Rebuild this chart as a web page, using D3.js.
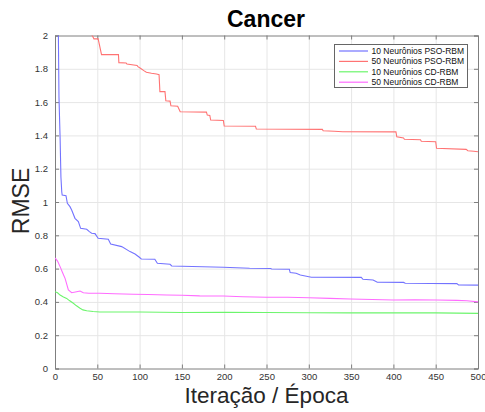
<!DOCTYPE html>
<html>
<head>
<meta charset="utf-8">
<script src="https://cdn.jsdelivr.net/npm/d3@7"></script>
<style>
  body { margin: 0; background: #fff; }
  text { font-family: "Liberation Sans", Arial, Helvetica, sans-serif; }
</style>
</head>
<body>
<div id="chart"></div>
<script>
// series as [epoch, RMSE]
const pso10 = [[1,2.9],[3,2.3],[4,2.0],[4.7,1.63],[6,1.39],[7,1.15],[8,1.06],[8.5,1.042],[13,1.038],[14.6,0.992],[17.7,0.972],[19.7,0.952],[23.6,0.902],[27.6,0.882],[30.3,0.842],[37.5,0.836],[40.6,0.822],[43.3,0.812],[47.3,0.81],[51,0.782],[63,0.776],[65.8,0.748],[78.8,0.732],[88.7,0.702],[94.6,0.688],[99.7,0.668],[102,0.658],[118,0.656],[121,0.632],[136,0.626],[138,0.616],[199,0.608],[230,0.602],[255,0.601],[256,0.598],[277,0.596],[278,0.576],[285,0.572],[290,0.562],[303,0.548],[362,0.547],[364,0.536],[376,0.532],[381,0.518],[412,0.517],[414,0.512],[475,0.51],[477,0.502],[500,0.501]];

const pso50 = [[1,2.3],[30,2.08],[44,2.0],[46,1.98],[51,1.98],[55,1.885],[75,1.885],[75.5,1.837],[84,1.835],[85,1.829],[97,1.82],[98,1.813],[101,1.803],[105,1.789],[108,1.779],[114,1.773],[120,1.769],[123,1.765],[124,1.663],[130,1.663],[131,1.608],[136,1.606],[137,1.578],[145,1.575],[148,1.542],[179,1.54],[180,1.522],[183,1.52],[184,1.492],[199,1.49],[200,1.456],[237,1.455],[238,1.438],[316,1.436],[317,1.428],[330,1.425],[340,1.422],[403,1.421],[404,1.392],[412,1.385],[413,1.377],[432,1.374],[433,1.365],[450,1.362],[451,1.323],[486,1.316],[488,1.308],[495,1.305],[500,1.302]];

const cd10 = [[0,0.461],[3,0.455],[6,0.441],[10,0.43],[13.8,0.421],[17,0.408],[21.7,0.392],[25,0.378],[29.6,0.362],[33,0.352],[37.5,0.347],[45,0.342],[53,0.339],[100,0.339],[150,0.336],[200,0.337],[250,0.336],[300,0.335],[350,0.334],[400,0.334],[450,0.334],[500,0.331]];

const cd50 = [[0,0.664],[3,0.645],[6,0.612],[9,0.575],[12,0.54],[15.8,0.472],[19.7,0.455],[25.6,0.461],[29.6,0.465],[33.5,0.455],[40,0.452],[53,0.452],[70,0.449],[92.6,0.446],[110,0.444],[132,0.441],[150,0.44],[171,0.436],[199,0.435],[222,0.431],[250,0.428],[275,0.428],[300,0.425],[325,0.421],[349,0.417],[375,0.414],[400,0.411],[425,0.412],[451,0.411],[475,0.409],[487,0.407],[500,0.40]];

const seriesNames = ["10 Neurônios PSO-RBM", "50 Neurônios PSO-RBM", "10 Neurônios CD-RBM", "50 Neurônios CD-RBM"];
const seriesColors = ["#7373ff", "#ff7373", "#6cf56c", "#ff6cff"];
const xTicks = [0, 50, 100, 150, 200, 250, 300, 350, 400, 450, 500];
const yTicks = [0, 0.2, 0.4, 0.6, 0.8, 1, 1.2, 1.4, 1.6, 1.8, 2];

const width = 485, height = 412;
const margin = {top: 35.5, right: 7, bottom: 43.5, left: 55};
const w = width - margin.left - margin.right;
const h = height - margin.top - margin.bottom;

const svg = d3.select("#chart").append("svg")
    .attr("width", width)
    .attr("height", height);

const x = d3.scaleLinear().domain([0, 500]).range([0, w]);
const y = d3.scaleLinear().domain([0, 2]).range([h, 0]);

const g = svg.append("g").attr("transform", `translate(${margin.left},${margin.top})`);

// grid
g.selectAll("line.gx").data(xTicks.slice(1, -1)).enter().append("line")
    .attr("x1", d => x(d) + 0.5).attr("x2", d => x(d) + 0.5)
    .attr("y1", 0).attr("y2", h)
    .style("stroke", "#e6e6e6");
g.selectAll("line.gy").data(yTicks.slice(1, -1)).enter().append("line")
    .attr("x1", 0).attr("x2", w)
    .attr("y1", d => y(d) + 0.5).attr("y2", d => y(d) + 0.5)
    .style("stroke", "#e6e6e6");

// axes, ticks inward
const tickColor = "#7f7f7f";
g.append("g").attr("transform", `translate(0,${h})`)
    .call(d3.axisBottom(x).tickValues(xTicks).tickSize(-4).tickPadding(5));
g.append("g")
    .call(d3.axisLeft(y).tickValues(yTicks).tickSize(-4).tickPadding(7).tickFormat(d3.format("")));
g.append("g").attr("transform", `translate(${w},0)`)
    .call(d3.axisRight(y).tickValues(yTicks).tickSize(-4).tickFormat(""));
g.append("g")
    .call(d3.axisTop(x).tickValues(xTicks).tickSize(-4).tickFormat(""));
g.selectAll(".domain, .tick line").style("stroke", tickColor);
g.selectAll(".tick text").style("fill", "#333").style("font-size", "9.5px")
    .style("font-family", "'Liberation Sans', Arial, sans-serif");

// lines
g.append("clipPath").attr("id", "clip").append("rect")
    .attr("width", w).attr("height", h);
const line = d3.line().x(d => x(d[0])).y(d => y(d[1]));
const allSeries = [pso10, pso50, cd10, cd50];
g.append("g").attr("clip-path", "url(#clip)")
    .selectAll("path").data(allSeries).enter().append("path")
    .attr("d", d => line(d))
    .style("fill", "none")
    .style("stroke", (d, i) => seriesColors[i])
    .style("stroke-width", 1.1);

// legend
const leg = svg.append("g").attr("transform", "translate(334.5,44.5)");
leg.append("rect").attr("width", 133).attr("height", 43)
    .style("fill", "#fff").style("stroke", "#666").style("stroke-width", 1);
seriesNames.forEach((name, i) => {
    const yy = 6.5 + i * 10.4;
    leg.append("line").attr("x1", 4.5).attr("x2", 33.5).attr("y1", yy).attr("y2", yy)
        .style("stroke", seriesColors[i]).style("stroke-width", 1.2);
    leg.append("text").attr("x", 37).attr("y", yy + 3)
        .style("font-size", "8.5px").style("fill", "#111").text(name);
});

// titles
svg.append("text").attr("x", 266).attr("y", 27)
    .attr("text-anchor", "middle")
    .style("font-size", "23px").style("font-weight", "bold").style("fill", "#000")
    .text("Cancer");
svg.append("text").attr("x", 266.5).attr("y", 403)
    .attr("text-anchor", "middle")
    .style("font-size", "22.5px").style("fill", "#262626")
    .text("Iteração / Época");
svg.append("text").attr("transform", "translate(28.5,201) rotate(-90)")
    .attr("text-anchor", "middle")
    .style("font-size", "23px").style("fill", "#262626")
    .text("RMSE");
</script>
</body>
</html>
